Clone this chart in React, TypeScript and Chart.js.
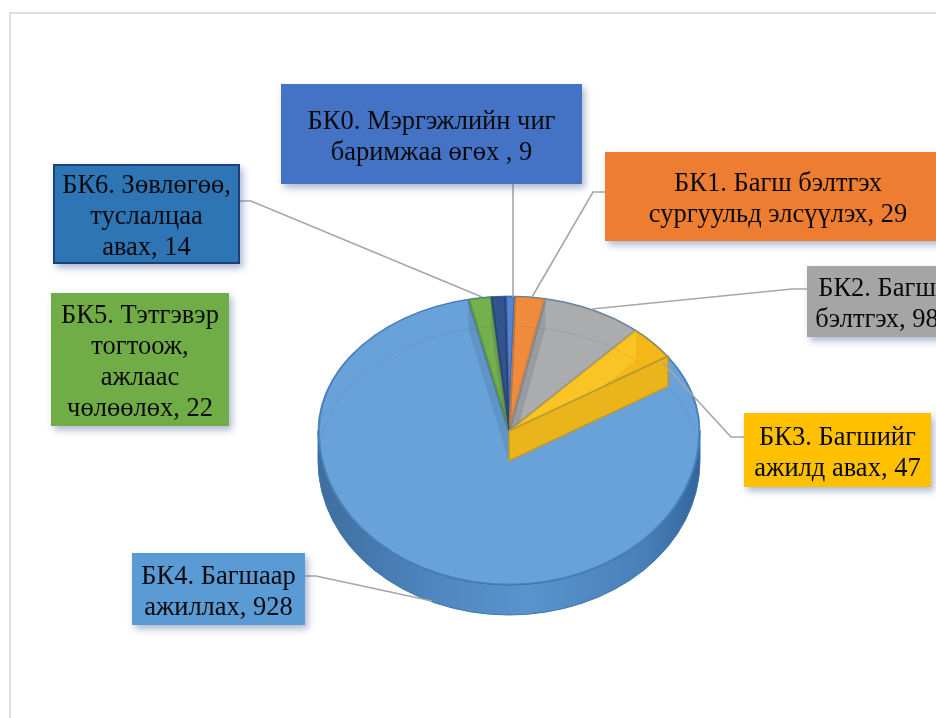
import React, { useEffect, useRef } from "react";
import { Chart, registerables } from "chart.js";

Chart.register(...registerables);

const categories = ["БК0", "БК1", "БК2", "БК3", "БК4", "БК5", "БК6"];
const values = [9, 29, 98, 47, 928, 22, 14];
const labelLines = [
  ["БК0. Мэргэжлийн чиг", "баримжаа өгөх ,"],
  ["БК1. Багш бэлтгэх", "сургуульд элсүүлэх,"],
  ["БК2. Багш", "бэлтгэх,"],
  ["БК3. Багшийг", "ажилд авах,"],
  ["БК4. Багшаар", "ажиллах,"],
  ["БК5. Тэтгэвэр", "тогтоож,", "ажлаас", "чөлөөлөх,"],
  ["БК6. Зөвлөгөө,", "туслалцаа", "авах,"],
];
const sliceColors = ["#5585d2", "#f08a3c", "#abacad", "#f4b916", "#69a2d8", "#74b04c", "#33558f"];
const sliceBorders = ["#3f68ad", "#c9803f", "#8f9092", "#b99a2e", "#4d88c4", "#5f9640", "#28457a"];
const boxColors = ["#4472c4", "#ed7d31", "#a5a5a5", "#ffc000", "#5b9bd5", "#70ad47", "#2e75b6"];

// layout of label boxes: left, top, width, height
const boxLayout = [
  [281, 84, 301, 100],
  [605, 152, 346, 89],
  [807, 266, 140, 71],
  [744, 413, 187, 74],
  [132, 553, 173, 72],
  [51, 293, 178, 133],
  [53, 164, 187, 100],
];
// leader line polylines
const leaderLines = [
  [[513, 184], [513, 297]],
  [[605, 192], [593, 192], [532, 297]],
  [[807, 289], [792, 289], [592, 309]],
  [[744, 437], [731, 437], [663, 363]],
  [[305, 576], [316, 576], [432, 601]],
  [[240, 201], [251, 201], [482, 297]],
];

const W = 936;
const H = 718;
const CX = 509;
const CY = 431;
const R = 191;
const K_TOP = 135 / 191;
const K_BOTTOM = 154 / 191;
const DEPTH = 30;
const ROTATION_DEG = -1;

const rimPoint = (a: number, dy = 0) => {
  const s = Math.sin(a);
  return { x: CX + R * Math.cos(a), y: CY + dy + R * s * (s < 0 ? K_TOP : K_BOTTOM) };
};

function ellipsePath(ctx: CanvasRenderingContext2D, dy: number) {
  ctx.beginPath();
  ctx.ellipse(CX, CY + dy, R, R * K_BOTTOM, 0, 0, Math.PI);
  ctx.ellipse(CX, CY + dy, R, R * K_TOP, 0, Math.PI, Math.PI * 2);
}

function wedgePath(ctx: CanvasRenderingContext2D, a0: number, a1: number) {
  ctx.beginPath();
  ctx.moveTo(CX, CY);
  const steps = Math.max(4, Math.ceil((a1 - a0) * 40));
  for (let i = 0; i <= steps; i++) {
    const p = rimPoint(a0 + ((a1 - a0) * i) / steps);
    ctx.lineTo(p.x, p.y);
  }
  ctx.closePath();
}

const pie3d = {
  id: "pie3d",
  beforeDatasetsDraw(chart: any) {
    const ctx: CanvasRenderingContext2D = chart.ctx;
    const arcs = chart.getDatasetMeta(0).data;

    // outer wall
    const wall = ctx.createLinearGradient(CX - R, 0, CX + R, 0);
    wall.addColorStop(0, "#3f6d9e");
    wall.addColorStop(0.3, "#4f86bf");
    wall.addColorStop(0.55, "#5a93cd");
    wall.addColorStop(0.85, "#4a80b8");
    wall.addColorStop(1, "#33659b");
    ctx.save();
    ctx.beginPath();
    ctx.ellipse(CX, CY, R, R * K_BOTTOM, 0, Math.PI, 0, true);
    ctx.ellipse(CX, CY + DEPTH, R, R * K_BOTTOM, 0, 0, Math.PI);
    ctx.closePath();
    ctx.fillStyle = wall;
    ctx.fill();
    ctx.strokeStyle = "#3f7bb8";
    ctx.lineWidth = 1;
    ctx.stroke();
    ctx.restore();

    // top faces through the library's arc elements, with different foreshortening behind / in front
    const halves = [
      { y: 0, h: CY, k: K_TOP },
      { y: CY, h: H - CY, k: K_BOTTOM },
    ];
    halves.forEach((half) => {
      ctx.save();
      ctx.beginPath();
      ctx.rect(0, half.y, W, half.h);
      ctx.clip();
      ctx.translate(CX, CY);
      ctx.scale(1, half.k);
      ctx.translate(-CX, -CY);
      arcs.forEach((arc: any) => arc.draw(ctx));
      ctx.restore();
    });

    // inner side walls seen through the glassy slices
    arcs.forEach((arc: any, i: number) => {
      const a0 = arc.startAngle;
      const a1 = arc.endAngle;
      ctx.save();
      wedgePath(ctx, a0, a1);
      ctx.clip();
      [a0, a1].forEach((a, n) => {
        const rightSide = Math.cos(a) > 0;
        if ((n === 0) !== rightSide) return;
        const p = rimPoint(a);
        ctx.beginPath();
        ctx.moveTo(CX, CY);
        ctx.lineTo(p.x, p.y);
        ctx.lineTo(p.x, p.y + DEPTH);
        ctx.lineTo(CX, CY + DEPTH);
        ctx.closePath();
        ctx.fillStyle = i === 3 ? "rgba(255,205,50,0.55)" : "rgba(40,60,90,0.14)";
        ctx.fill();
      });
      ctx.restore();
    });

    // rim of the lower face, faintly visible through the top
    ctx.save();
    ellipsePath(ctx, DEPTH);
    ctx.clip();
    ellipsePath(ctx, DEPTH);
    ctx.strokeStyle = "rgba(60,85,120,0.22)";
    ctx.lineWidth = 1;
    ctx.stroke();
    ctx.restore();

    // raised slice БК3: front wall
    const raised = arcs[3];
    const p = rimPoint(raised.endAngle);
    ctx.save();
    ctx.beginPath();
    ctx.moveTo(CX, CY);
    ctx.lineTo(p.x, p.y);
    ctx.lineTo(p.x, p.y + DEPTH);
    ctx.lineTo(CX, CY + DEPTH);
    ctx.closePath();
    ctx.fillStyle = "#eab41b";
    ctx.fill();
    ctx.strokeStyle = "#bb9a2f";
    ctx.lineWidth = 1.5;
    ctx.stroke();
    ctx.restore();

    // outer edge of the top face
    ctx.save();
    ellipsePath(ctx, 0);
    ctx.closePath();
    ctx.strokeStyle = "rgba(55,115,175,0.75)";
    ctx.lineWidth = 1;
    ctx.stroke();
    ctx.restore();

    // leader lines
    ctx.save();
    ctx.strokeStyle = "#a6a6a6";
    ctx.lineWidth = 1.6;
    leaderLines.forEach((line) => {
      ctx.beginPath();
      line.forEach(([x, y], n) => (n ? ctx.lineTo(x, y) : ctx.moveTo(x, y)));
      ctx.stroke();
    });
    ctx.restore();
    return false;
  },
};

export default function App() {
  const ref = useRef<HTMLCanvasElement>(null);
  useEffect(() => {
    const chart = new Chart(ref.current!, {
      type: "pie",
      data: {
        labels: categories,
        datasets: [
          {
            data: values,
            backgroundColor: sliceColors,
            borderColor: sliceBorders,
            borderWidth: 1.5,
            borderAlign: "inner",
          },
        ],
      },
      options: {
        responsive: false,
        animation: false,
        events: [],
        rotation: ROTATION_DEG,
        layout: { padding: { left: CX - R, right: W - CX - R, top: CY - R, bottom: H - CY - R } },
        plugins: { legend: { display: false }, tooltip: { enabled: false }, title: { display: false } },
      },
      plugins: [pie3d],
    } as any);
    return () => chart.destroy();
  }, []);

  return (
    <div style={{ position: "fixed", left: 0, top: 0, width: W, height: H, overflow: "hidden", background: "#fff" }}>
      <div style={{ position: "absolute", left: 9, top: 12, width: W, height: H, border: "2px solid #dedede", boxSizing: "border-box" }} />
      <canvas ref={ref} width={W} height={H} style={{ position: "absolute", left: 0, top: 0, width: W, height: H }} />
      {categories.map((c, i) => {
        const [left, top, width, height] = boxLayout[i];
        const lines = labelLines[i];
        return (
          <div
            key={c}
            style={{
              position: "absolute",
              left,
              top,
              width,
              height,
              boxSizing: "border-box",
              paddingTop: 3,
              background: boxColors[i],
              border: i === 6 ? "2px solid #1f3f78" : "none",
              boxShadow: "3px 4px 7px rgba(70,100,150,0.45)",
              display: "flex",
              flexDirection: "column",
              justifyContent: "center",
              alignItems: "center",
              fontFamily: "'Liberation Serif', serif",
              fontSize: 26.5,
              lineHeight: "31px",
              color: "#0a0a0a",
              whiteSpace: "nowrap",
            }}
          >
            {lines.map((l, n) => (
              <div key={n}>{n === lines.length - 1 ? `${l} ${values[i]}` : l}</div>
            ))}
          </div>
        );
      })}
    </div>
  );
}
